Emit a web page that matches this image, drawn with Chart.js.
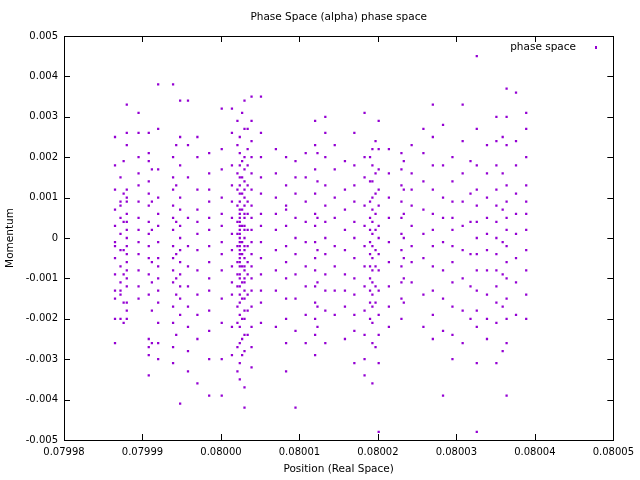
<!DOCTYPE html>
<html><head><meta charset="utf-8">
<script src="https://cdn.jsdelivr.net/npm/chart.js@4/dist/chart.umd.min.js"></script>
<style>html,body{margin:0;padding:0;background:#fff}#w{width:640px;height:480px}</style>
</head><body><div id="w"><canvas id="c"></canvas></div>
<script>
const title = "Phase Space (alpha) phase space";
const seriesName = "phase space";
const xTicks = [0.07998,0.07999,0.08000,0.08001,0.08002,0.08003,0.08004,0.08005];
const yTicks = [-0.005,-0.004,-0.003,-0.002,-0.001,0,0.001,0.002,0.003,0.004,0.005];
const colX = [0.0799865,0.0799872,0.0799880,0.0799895,0.0799908,0.0799920,0.0799939,0.0799948,0.0799958,0.0799970,0.0799985,0.0800001,0.0800014,0.0800024,0.0800030,0.0800039,0.0800051,0.0800070,0.0800083,0.0800095,0.0800108,0.0800120,0.0800133,0.0800145,0.0800158,0.0800170,0.0800183,0.0800193,0.0800201,0.0800214,0.0800230,0.0800243,0.0800258,0.0800270,0.0800283,0.0800295,0.0800308,0.0800326,0.0800339,0.0800351,0.0800364,0.0800376,0.0800389,
  0.0799876,0.0799912,0.0799943,0.0800021,0.0800027,0.0800034,0.0800123,0.0800190,0.0800197,0.0800233,0.0800318,0.0800359];
const colY = [
[0.0018,0.0012,0.0007,0.0003,-0.0001,-0.0005,-0.0009,-0.0013,-0.0015,-0.0020,-0.0026,0.0025,-0.0002],
[0.0015,0.0009,0.0005,0.0001,-0.0003,-0.0007,-0.0011,-0.0014,-0.0013,-0.0020,0.0008],
[0.0026,0.0023,0.0012,0.0010,0.0006,0.0004,0.0002,0.0000,-0.0002,-0.0004,-0.0006,-0.0008,-0.0010,-0.0012,-0.0018,-0.0020,-0.0016,0.0009,0.0033],
[0.0031,0.0020,0.0016,0.0013,0.0009,0.0005,0.0002,-0.0001,-0.0004,-0.0008,-0.0012,-0.0015,0.0026],
[0.0026,0.0021,0.0019,0.0014,0.0011,0.0008,0.0004,0.0001,-0.0002,-0.0005,-0.0009,-0.0014,-0.0025,-0.0027,-0.0029,-0.0034],
[0.0038,0.0027,0.0017,0.0010,0.0006,0.0003,-0.0001,-0.0005,-0.0007,-0.0010,-0.0013,-0.0016,-0.0021,-0.0026,-0.0030],
[0.0020,0.0015,0.0012,0.0008,0.0005,0.0002,-0.0002,-0.0005,-0.0008,-0.0011,-0.0017,-0.0021,-0.0027,-0.0031,0.0038],
[0.0025,0.0018,0.0010,0.0007,0.0003,0.0000,-0.0003,-0.0006,-0.0009,-0.0012,-0.0015,-0.0019,-0.0041,0.0034],
[0.0034,0.0023,0.0015,0.0005,-0.0002,-0.0007,-0.0012,-0.0017,-0.0022,-0.0028,-0.0033],
[0.0025,0.0020,0.0012,0.0007,0.0004,0.0001,-0.0003,-0.0008,-0.0014,-0.0019,-0.0025,-0.0036],
[0.0021,0.0016,0.0012,0.0009,0.0005,0.0002,-0.0002,-0.0006,-0.0010,-0.0013,-0.0018,-0.0023,-0.0030,-0.0039],
[0.0032,0.0022,0.0017,0.0010,0.0006,0.0003,-0.0001,-0.0004,-0.0008,-0.0015,-0.0021,-0.0030,-0.0039],
[0.0032,0.0026,0.0018,0.0013,0.0009,0.0005,0.0001,-0.0003,-0.0007,-0.0011,-0.0014,-0.0022,-0.0029],
[0.0025,0.0021,0.0018,0.0015,0.0013,0.0011,0.0009,0.0007,0.0006,0.0005,0.0004,0.0003,0.0002,0.0001,0.0000,-0.0001,-0.0002,-0.0003,-0.0004,-0.0005,-0.0006,-0.0007,-0.0009,-0.0010,-0.0012,-0.0014,-0.0016,-0.0019,-0.0022,-0.0026,-0.0031,-0.0035],
[0.0034,0.0027,0.0020,0.0017,0.0014,0.0012,0.0010,0.0008,0.0006,0.0005,0.0003,0.0002,0.0000,-0.0002,-0.0003,-0.0005,-0.0007,-0.0008,-0.0010,-0.0011,-0.0013,-0.0015,-0.0018,-0.0020,-0.0024,-0.0028,-0.0037,-0.0042],
[0.0035,0.0029,0.0024,0.0020,0.0016,0.0012,0.0008,0.0005,0.0002,-0.0001,-0.0004,-0.0007,-0.0010,-0.0013,-0.0017,-0.0022,-0.0027,-0.0032],
[0.0035,0.0026,0.0020,0.0015,0.0011,0.0006,0.0003,-0.0001,-0.0005,-0.0009,-0.0013,-0.0016,-0.0021],
[0.0022,0.0016,0.0010,0.0006,0.0002,-0.0003,-0.0008,-0.0013,-0.0022],
[0.0020,0.0013,0.0008,0.0007,0.0003,-0.0002,-0.0006,-0.0010,-0.0015,-0.0020,-0.0026,-0.0033],
[0.0019,0.0015,0.0011,0.0005,0.0000,-0.0004,-0.0009,-0.0015,-0.0023,-0.0042],
[0.0021,0.0015,0.0009,0.0004,-0.0001,-0.0007,-0.0012,-0.0019,-0.0026],
[0.0029,0.0023,0.0017,0.0011,0.0006,0.0003,-0.0001,-0.0005,-0.0008,-0.0012,-0.0016,-0.0020,-0.0024,-0.0029],
[0.0030,0.0026,0.0020,0.0013,0.0008,0.0004,0.0000,-0.0004,-0.0009,-0.0013,-0.0018,-0.0026],
[0.0023,0.0017,0.0010,0.0005,-0.0002,-0.0007,-0.0013,-0.0019],
[0.0019,0.0012,0.0007,0.0002,-0.0003,-0.0009,-0.0013,-0.0017,-0.0025],
[0.0026,0.0018,0.0013,0.0009,0.0004,0.0000,-0.0005,-0.0010,-0.0014,-0.0019,-0.0023,-0.0031],
[0.0031,0.0020,0.0015,0.0008,0.0003,-0.0002,-0.0007,-0.0012,-0.0018,-0.0024,-0.0030,-0.0034],
[0.0022,0.0018,0.0014,0.0010,0.0007,0.0004,0.0001,-0.0002,-0.0005,-0.0008,-0.0011,-0.0014,-0.0017,-0.0021,-0.0026,-0.0036],
[0.0029,0.0022,0.0017,0.0012,0.0008,0.0003,0.0000,-0.0004,-0.0008,-0.0013,-0.0019,-0.0024,-0.0031,-0.0048],
[0.0022,0.0016,0.0010,0.0005,-0.0001,-0.0006,-0.0012,-0.0017,-0.0022],
[0.0021,0.0017,0.0013,0.0009,0.0005,0.0001,-0.0003,-0.0007,-0.0011,-0.0015,-0.0020],
[0.0023,0.0016,0.0012,0.0008,0.0003,-0.0002,-0.0006,-0.0011],
[0.0027,0.0021,0.0014,0.0007,0.0001,-0.0005,-0.0014,-0.0022],
[0.0033,0.0025,0.0018,0.0012,0.0006,0.0002,-0.0002,-0.0007,-0.0013,-0.0019,-0.0025],
[0.0028,0.0018,0.0010,0.0005,-0.0001,-0.0008,-0.0015,-0.0023,-0.0039],
[0.0020,0.0014,0.0009,0.0005,0.0002,-0.0002,-0.0006,-0.0011,-0.0017,-0.0024,-0.0030],
[0.0033,0.0024,0.0016,0.0009,0.0003,-0.0003,-0.0010,-0.0018,-0.0026],
[0.0027,0.0018,0.0012,0.0008,0.0004,0.0000,-0.0004,-0.0008,-0.0013,-0.0018,-0.0022,-0.0031,-0.0048,0.0045],
[0.0023,0.0016,0.0010,0.0005,0.0001,-0.0003,-0.0008,-0.0014,-0.0020,-0.0025],
[0.0030,0.0024,0.0018,0.0012,0.0008,0.0004,0.0000,-0.0004,-0.0008,-0.0012,-0.0016,-0.0021,-0.0031],
[0.0037,0.0030,0.0023,0.0013,0.0009,0.0005,0.0002,-0.0002,-0.0006,-0.0010,-0.0015,-0.0020,-0.0026,-0.0039],
[0.0036,0.0024,0.0018,0.0011,0.0006,0.0001,-0.0005,-0.0011,-0.0019],
[0.0031,0.0027,0.0020,0.0013,0.0009,0.0006,0.0002,-0.0003,-0.0008,-0.0014,-0.0020],
[0.0019,0.0011,0.0004,-0.0003,-0.0009,-0.0016,-0.0021],
[0.0017,0.0009,0.0002,-0.0006,-0.0011,-0.0018,-0.0026],
[0.0023,0.0013,0.0004,-0.0004,-0.0010,-0.0014,-0.0024],
[0.0029,0.0023,0.0016,0.0012,0.0008,0.0004,0.0001,-0.0002,-0.0006,-0.0009,-0.0012,-0.0017,-0.0021,-0.0027,-0.0033],
[0.0031,0.0019,0.0015,0.0011,0.0007,0.0003,-0.0001,-0.0004,-0.0007,-0.0011,-0.0015,-0.0020,-0.0025,-0.0029],
[0.0027,0.0022,0.0018,0.0013,0.0009,0.0006,0.0002,-0.0002,-0.0006,-0.0009,-0.0014,-0.0018,-0.0024],
[0.0021,0.0014,0.0005,-0.0003,-0.0011,-0.0017,-0.0022],
[0.0020,0.0014,0.0009,0.0005,0.0002,-0.0001,-0.0004,-0.0007,-0.0010,-0.0013,-0.0016,-0.0020],
[0.0024,0.0016,0.0011,0.0006,0.0002,-0.0003,-0.0007,-0.0012,-0.0016,-0.0027],
[0.0019,0.0012,0.0006,0.0000,-0.0005,-0.0010,-0.0016],
[0.0019,0.0011,0.0004,-0.0004,-0.0012,-0.0020],
[0.0025,0.0016,0.0007,-0.0001,-0.0009,-0.0017,-0.0028]
];
const points = [];
colX.forEach((x,i)=>colY[i].forEach(y=>points.push({x:x,y:y})));

const frame = {
  id:'frame',
  afterDraw(c){
    const {ctx, chartArea:a, scales:{x,y}} = c;
    ctx.save();
    ctx.strokeStyle='#000'; ctx.lineWidth=1;
    ctx.strokeRect(Math.round(a.left)+0.5,Math.round(a.top)+0.5,Math.round(a.width),Math.round(a.height));
    ctx.beginPath();
    xTicks.forEach(v=>{const p=Math.round(x.getPixelForValue(v))+0.5;
      ctx.moveTo(p,a.bottom);ctx.lineTo(p,a.bottom-6);ctx.moveTo(p,a.top);ctx.lineTo(p,a.top+6);});
    yTicks.forEach(v=>{const p=Math.round(y.getPixelForValue(v))+0.5;
      ctx.moveTo(a.left,p);ctx.lineTo(a.left+6,p);ctx.moveTo(a.right,p);ctx.lineTo(a.right-6,p);});
    ctx.stroke();
    ctx.fillStyle='#000'; ctx.font='10.5px "DejaVu Sans", sans-serif';
    ctx.textAlign='center'; ctx.textBaseline='middle';
    ctx.fillText(title,(a.left+a.right)/2,17);
    ctx.textAlign='right';
    ctx.fillText(seriesName,576,47);
    ctx.fillStyle='#9400d3'; ctx.fillRect(595,46,2,3);
    ctx.restore();
  }
};

new Chart(document.getElementById('c'),{
  type:'scatter',
  data:{datasets:[{label:seriesName,data:points,pointStyle:'rect',pointRadius:1.6,
    backgroundColor:'#9400d3',borderColor:'#9400d3',borderWidth:0}]},
  options:{responsive:true,maintainAspectRatio:false,animation:false,
    layout:{padding:{top:36,right:16,left:0,bottom:0}},
    plugins:{legend:{display:false},title:{display:false},tooltip:{enabled:false}},
    scales:{
      x:{type:'linear',min:0.07998,max:0.08005,
        afterBuildTicks(s){s.ticks=xTicks.map(v=>({value:v}));},
        afterFit(s){s.height=40;},
        grid:{display:false,drawTicks:false},border:{display:false},
        ticks:{color:'#000',font:{family:'DejaVu Sans',size:10},padding:6,maxRotation:0,
          callback:v=>v.toFixed(5)},
        title:{display:true,text:'Position (Real Space)',color:'#000',font:{family:'DejaVu Sans',size:10.5},padding:{top:2}}},
      y:{min:-0.005,max:0.005,
        afterBuildTicks(s){s.ticks=yTicks.map(v=>({value:v}));},
        afterFit(s){s.width=64;},
        grid:{display:false,drawTicks:false},border:{display:false},
        ticks:{color:'#000',font:{family:'DejaVu Sans',size:10},padding:6,
          callback:v=>Math.abs(v)<1e-12?'0':v.toFixed(3)},
        title:{display:true,text:'Momentum',color:'#000',font:{family:'DejaVu Sans',size:10.5},padding:{bottom:0}}}
    }},
  plugins:[frame]
});
</script></body></html>
